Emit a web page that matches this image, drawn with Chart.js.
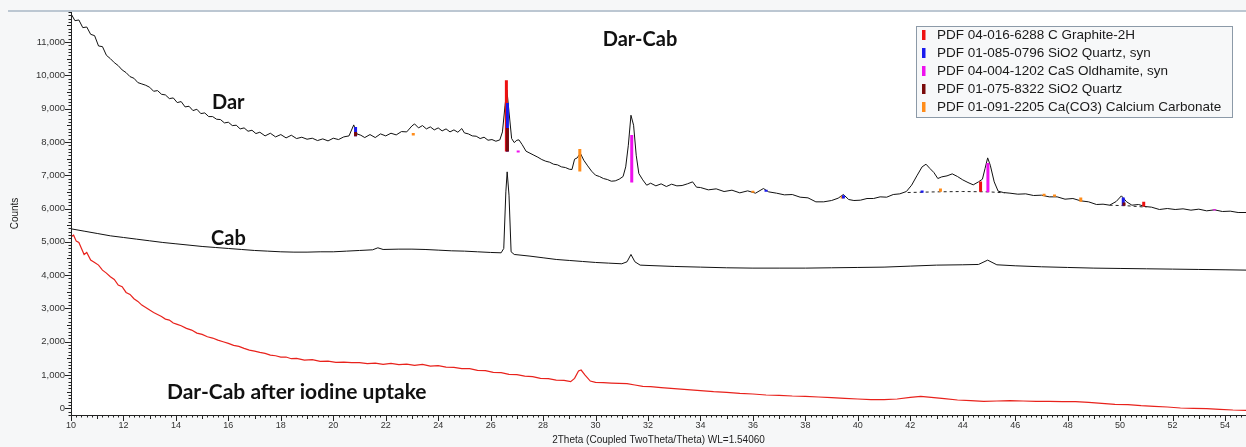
<!DOCTYPE html>
<html>
<head>
<meta charset="utf-8">
<script src="https://cdn.jsdelivr.net/npm/chart.js@4.4.0/dist/chart.umd.min.js"></script>
<style>
  body { margin: 0; background: #f6f7f8; }
  #wrap { width: 1246px; height: 447px; }
</style>
</head>
<body>
<div id="wrap"><canvas id="xrd" width="1246" height="447"></canvas></div>
<script>
// 2theta / counts, one pair of arrays per pattern
const darTheta = [
  10.0, 10.15, 10.3, 10.45, 10.6, 10.75, 10.9, 11.05, 11.2, 11.35,
  11.5, 11.65, 11.8, 11.95, 12.1, 12.25, 12.4, 12.55, 12.7, 12.85,
  13.0, 13.15, 13.3, 13.45, 13.6, 13.75, 13.9, 14.05, 14.2, 14.35,
  14.5, 14.65, 14.8, 14.95, 15.1, 15.25, 15.4, 15.55, 15.7, 15.85,
  16.0, 16.15, 16.3, 16.45, 16.6, 16.75, 16.9, 17.05, 17.2, 17.4,
  17.6, 17.8, 18.0, 18.2, 18.4, 18.6, 18.8, 19.0, 19.2, 19.4,
  19.6, 19.8, 20.0, 20.2, 20.4, 20.6, 20.78, 20.9, 21.05, 21.2,
  21.4, 21.6, 21.8, 22.0, 22.2, 22.4, 22.6, 22.8, 23.0, 23.1,
  23.25, 23.4, 23.55, 23.7, 23.85, 24.0, 24.15, 24.3, 24.45, 24.6,
  24.75, 24.9, 25.0, 25.15, 25.3, 25.45, 25.6, 25.75, 25.9, 26.05,
  26.2, 26.35, 26.45, 26.55, 26.62, 26.7, 26.8, 26.9, 27.0, 27.08,
  27.2, 27.35, 27.5, 27.65, 27.8, 27.95, 28.1, 28.25, 28.4, 28.55,
  28.7, 28.85, 29.0, 29.1, 29.2, 29.3, 29.42, 29.55, 29.7, 29.85,
  30.0, 30.15, 30.3, 30.45, 30.6, 30.75, 30.9, 31.05, 31.15, 31.25,
  31.35, 31.45, 31.55, 31.65, 31.8, 31.95, 32.1, 32.3, 32.5, 32.7,
  32.9, 33.1, 33.3, 33.5, 33.7, 33.85, 34.0, 34.3, 34.6, 34.9,
  35.2, 35.5, 35.8, 36.1, 36.4, 36.6, 36.9, 37.2, 37.5, 37.8,
  38.1, 38.4, 38.7, 39.0, 39.25, 39.45, 39.65, 39.85, 40.1, 40.35,
  40.6, 40.85, 41.1, 41.35, 41.6, 41.85, 42.05, 42.25, 42.45, 42.6,
  42.75, 42.9, 43.05, 43.2, 43.4, 43.6, 43.8, 44.0, 44.2, 44.4,
  44.6, 44.75, 44.85, 44.95, 45.05, 45.2, 45.35, 45.55, 45.8, 46.1,
  46.4, 46.7, 47.0, 47.3, 47.6, 47.9, 48.2, 48.5, 48.8, 49.1,
  49.35, 49.6, 49.85, 50.05, 50.25, 50.45, 50.7, 50.95, 51.2, 51.5,
  51.8, 52.1, 52.4, 52.7, 53.0, 53.3, 53.6, 53.9, 54.2, 54.5,
  54.8
];
const darCounts = [
  11850, 11640, 11660, 11430, 11450, 11230, 11190, 10880, 10860, 10600,
  10500, 10380, 10290, 10160, 10080, 9960, 9910, 9780, 9740, 9700,
  9640, 9520, 9540, 9430, 9410, 9300, 9320, 9180, 9210, 9050,
  9070, 8940, 8980, 8850, 8870, 8760, 8760, 8680, 8670, 8570,
  8590, 8490, 8500, 8390, 8420, 8320, 8350, 8250, 8290, 8180,
  8260, 8150, 8220, 8120, 8200, 8100, 8140, 8080, 8110, 8040,
  8090, 8030, 8110, 8070, 8150, 8180, 8510, 8240, 8200, 8130,
  8220, 8130, 8240, 8180, 8260, 8210, 8310, 8300, 8480, 8540,
  8420, 8490, 8390, 8450, 8360, 8420, 8330, 8390, 8300, 8360,
  8290, 8400, 8270, 8240, 8180, 8170, 8100, 8140, 8050, 8070,
  8020, 8060, 8300, 9100, 9560, 8900, 8100, 7980, 8050, 8060,
  7920, 7720, 7660, 7600, 7540, 7470, 7420, 7390, 7330, 7310,
  7250, 7230, 7180, 7170, 7480, 7520, 7660, 7450, 7280, 7120,
  7000, 6960, 6900, 6870, 6820, 6830, 6880, 6960, 7250, 7900,
  8800, 8500, 7600, 7050, 6860, 6700, 6760, 6680, 6740, 6660,
  6730, 6680, 6690, 6740, 6800, 6640, 6630, 6560, 6590, 6510,
  6550, 6470, 6530, 6460, 6600, 6500, 6460, 6410, 6420, 6340,
  6320, 6200, 6200, 6240, 6310, 6420, 6270, 6240, 6250, 6300,
  6300, 6350, 6340, 6420, 6440, 6510, 6700, 6980, 7250, 7330,
  7200, 7080, 6900, 6950, 6980, 7040, 6960, 6860, 6780, 6710,
  6800, 6880, 7200, 7520, 7300, 6800, 6520, 6480, 6460, 6430,
  6440, 6390, 6400, 6350, 6350, 6280, 6300, 6230, 6200, 6120,
  6130, 6100, 6210, 6380, 6200, 6100, 6120, 6060, 6040, 5970,
  6000, 5970, 5990, 5950, 5980, 5930, 5960, 5910, 5920, 5880,
  5880
];

const cabTheta = [
  10.0, 10.5, 11.0, 11.5, 12.0, 12.5, 13.0, 13.5, 14.0, 14.5,
  15.0, 15.5, 16.0, 16.5, 17.0, 17.5, 18.0, 18.5, 19.0, 19.5,
  20.0, 20.5, 21.0, 21.5, 21.7, 21.9, 22.5, 23.0, 23.5, 24.0,
  24.5, 25.0, 25.5, 26.0, 26.4, 26.5, 26.58, 26.63, 26.7, 26.78,
  26.9, 27.5, 28.0, 28.5, 29.0, 29.5, 30.0, 30.5, 31.0, 31.2,
  31.35, 31.5, 31.7, 32.0, 33.0, 34.0, 35.0, 36.0, 37.0, 38.0,
  39.0, 40.0, 41.0, 42.0, 43.0, 44.0, 44.6, 44.95, 45.3, 46.0,
  47.0, 48.0, 49.0, 50.0, 51.0, 52.0, 53.0, 54.0, 54.8
];
const cabCounts = [
  5390, 5320, 5250, 5180, 5130, 5080, 5030, 4980, 4940, 4900,
  4860, 4830, 4800, 4770, 4740, 4720, 4700, 4690, 4690, 4700,
  4700, 4720, 4740, 4760, 4820, 4770, 4780, 4780, 4770, 4750,
  4730, 4720, 4700, 4680, 4670, 4800, 6500, 7100, 6400, 4700,
  4620, 4570, 4520, 4470, 4440, 4410, 4380, 4360, 4340, 4400,
  4620, 4400, 4300, 4290, 4260, 4240, 4220, 4210, 4210, 4210,
  4220, 4230, 4240, 4270, 4300, 4310, 4320, 4450, 4310, 4280,
  4250, 4230, 4210, 4200, 4190, 4180, 4170, 4160, 4150
];

// Dar-Cab after iodine uptake
const iodTheta = [
  10.0, 10.1, 10.2, 10.3, 10.4, 10.5, 10.6, 10.75, 10.9, 11.05,
  11.2, 11.35, 11.5, 11.65, 11.8, 11.95, 12.1, 12.25, 12.4, 12.55,
  12.7, 12.85, 13.0, 13.15, 13.3, 13.45, 13.6, 13.75, 13.9, 14.05,
  14.2, 14.4, 14.6, 14.8, 15.0, 15.2, 15.4, 15.6, 15.8, 16.0,
  16.2, 16.4, 16.6, 16.8, 17.0, 17.2, 17.4, 17.6, 17.8, 18.0,
  18.2, 18.4, 18.6, 18.9, 19.2, 19.5, 19.8, 20.1, 20.4, 20.7,
  21.0, 21.3, 21.6, 21.9, 22.2, 22.5, 22.8, 23.1, 23.4, 23.7,
  24.0, 24.3, 24.6, 24.9, 25.2, 25.5, 25.8, 26.1, 26.4, 26.7,
  27.0, 27.3, 27.6, 27.9, 28.2, 28.5, 28.8, 29.05, 29.2, 29.35,
  29.45, 29.6, 29.8, 30.0, 30.3, 30.6, 30.9, 31.2, 31.5, 31.8,
  32.1, 32.5, 33.0, 33.5, 34.0, 34.5, 35.0, 35.5, 36.0, 36.5,
  37.0, 37.5, 38.0, 38.5, 39.0, 39.5, 40.0, 40.5, 41.0, 41.5,
  42.0, 42.4, 42.8, 43.3, 43.8, 44.3, 44.8, 45.3, 45.8, 46.3,
  46.8, 47.3, 47.8, 48.3, 48.8, 49.3, 49.8, 50.3, 50.8, 51.3,
  51.8, 52.3, 52.8, 53.3, 53.8, 54.3, 54.8
];
const iodCounts = [
  5150, 5200, 5020, 4980, 4800, 4620, 4680, 4450, 4380, 4300,
  4150, 4060, 3950, 3870, 3700, 3650, 3480, 3420, 3290, 3210,
  3100, 3030, 2950, 2880, 2820, 2760, 2680, 2650, 2560, 2520,
  2480, 2400, 2350, 2260, 2220, 2150, 2110, 2050, 2000, 1950,
  1890, 1860, 1800, 1750, 1720, 1680, 1650, 1600, 1580, 1540,
  1540, 1490, 1500, 1450, 1460, 1410, 1420, 1380, 1390, 1370,
  1370, 1340, 1360, 1320, 1350, 1310, 1330, 1290, 1320, 1270,
  1280, 1240, 1230, 1190, 1190, 1140, 1130, 1080, 1070, 1020,
  1010, 970, 950, 900, 890, 850, 840, 800, 900, 1120,
  1150, 1000, 820, 780, 770, 760, 750, 740, 700, 660,
  650, 620, 590, 560, 530, 500, 480, 450, 430, 400,
  390, 370, 360, 340, 320, 300, 280, 260, 260, 280,
  330, 360, 330, 290, 250, 230, 210, 220, 230, 220,
  210, 210, 200, 200, 180, 150, 120, 110, 80, 60,
  40, 10, 0, -10, -30, -50, -60
];

// fitted background under the Dar scan (null = gap)
const bgTheta = [22.9, 24.0, 25.0, 26.6, 28.1, 29.4, 31.4, 33.0, 34.0, null, 41.9, 43.0, 44.0, 45.0, 45.6, null, 49.6, 50.3, 51.0];
const bgCounts = [8200, 8080, 7940, 7710, 7410, 7110, 6780, 6600, 6510, null, 6480, 6500, 6510, 6500, 6470, null, 6100, 6080, 6040];

// reference sticks: [2theta, from, to]
const graphiteSticks = [[26.6, 7710, 9850], [44.68, 6500, 6810], [50.9, 6060, 6200]];
const quartzSynSticks = [[20.85, 8170, 8450], [26.64, 7710, 9170], [36.5, 6500, 6560], [39.45, 6300, 6400], [42.45, 6470, 6540], [50.12, 6080, 6330]];
const oldhamiteSticks = [[27.05, 7680, 7740], [31.38, 6780, 8210], [44.96, 6490, 7370], [53.6, 5940, 5980]];
const quartzSticks = [[20.85, 8170, 8300], [26.64, 7710, 8420], [50.15, 6080, 6180]];
const calciteSticks = [[23.05, 8190, 8270], [29.4, 7110, 7790], [36.0, 6470, 6530], [39.4, 6300, 6380], [43.15, 6500, 6600], [47.1, 6370, 6440], [47.5, 6350, 6420], [48.5, 6200, 6330]];

const phaseLabels = [
  "PDF 04-016-6288 C Graphite-2H",
  "PDF 01-085-0796 SiO2 Quartz, syn",
  "PDF 04-004-1202 CaS Oldhamite, syn",
  "PDF 01-075-8322 SiO2 Quartz",
  "PDF 01-091-2205 Ca(CO3) Calcium Carbonate"
];
const phaseColors = ["#ee1111", "#1a1aee", "#ee11ee", "#7a0a0a", "#ff8c1a"];

// labelled ticks
const xTicks = [10, 12, 14, 16, 18, 20, 22, 24, 26, 28, 30, 32, 34, 36, 38, 40, 42, 44, 46, 48, 50, 52, 54];
const yTicks = [0, 1000, 2000, 3000, 4000, 5000, 6000, 7000, 8000, 9000, 10000, 11000];

function toPoints(xs, ys) {
  return xs.map((x, i) => ({ x: x, y: ys[i] }));
}

function stickPoints(sticks) {
  const pts = [];
  sticks.forEach(s => {
    pts.push({ x: s[0], y: s[1] }, { x: s[0], y: s[2] }, { x: s[0], y: null });
  });
  return pts;
}

const FONT = "'Liberation Sans', Arial, sans-serif";
Chart.defaults.font.family = FONT;

// background, ticks, text labels and the phase box
const decorPlugin = {
  id: "decor",
  beforeDraw(chart) {
    const { ctx, chartArea: a } = chart;
    ctx.save();
    ctx.fillStyle = "#f6f7f8";
    ctx.fillRect(0, 0, chart.width, chart.height);
    ctx.fillStyle = "#ffffff";
    ctx.fillRect(a.left, a.top, a.right - a.left, a.bottom - a.top);
    ctx.strokeStyle = "#a9b7c6";
    ctx.lineWidth = 1.5;
    ctx.beginPath();
    ctx.moveTo(8, 11);
    ctx.lineTo(chart.width, 11);
    ctx.stroke();
    ctx.restore();
  },
  afterDraw(chart) {
    const { ctx, chartArea: a } = chart;
    const xs = chart.scales.x;
    const ys = chart.scales.y;
    ctx.save();

    // axis lines
    ctx.strokeStyle = "#222";
    ctx.lineWidth = 1;
    ctx.beginPath();
    ctx.moveTo(a.left + 0.5, a.top);
    ctx.lineTo(a.left + 0.5, a.bottom + 0.5);
    ctx.lineTo(a.right, a.bottom + 0.5);
    ctx.stroke();

    // ruler style ticks
    ctx.beginPath();
    for (let k = -2; k <= 119; k++) {
      const y = Math.round(ys.getPixelForValue(k * 100)) + 0.5;
      const len = k % 10 === 0 ? 6 : (k % 5 === 0 ? 4 : 2.5);
      ctx.moveTo(a.left - len, y);
      ctx.lineTo(a.left, y);
    }
    for (let k = 50; k <= 274; k++) {
      const x = Math.round(xs.getPixelForValue(k / 5)) + 0.5;
      const len = k % 10 === 0 ? 6 : (k % 5 === 0 ? 4 : 2.5);
      ctx.moveTo(x, a.bottom);
      ctx.lineTo(x, a.bottom + len);
    }
    ctx.stroke();

    // sample names
    ctx.fillStyle = "#111";
    ctx.textBaseline = "middle";
    ctx.font = "bold 20px Lato, 'Open Sans', sans-serif";
    ctx.textAlign = "center";
    ctx.fillText("Dar-Cab", 640, 40);
    ctx.textAlign = "left";
    ctx.fillText("Dar", 212, 103);
    ctx.fillText("Cab", 211, 239);
    ctx.font = "bold 21px Lato, 'Open Sans', sans-serif";
    ctx.fillText("Dar-Cab after iodine uptake", 167, 392);

    // phase list box
    ctx.fillStyle = "#f7f8f9";
    ctx.fillRect(916.5, 26.5, 316, 91);
    ctx.strokeStyle = "#8c9aa8";
    ctx.strokeRect(916.5, 26.5, 316, 91);
    ctx.font = "13.5px " + FONT;
    phaseLabels.forEach((label, i) => {
      const cy = 35 + i * 18;
      ctx.fillStyle = phaseColors[i];
      ctx.fillRect(922, cy - 5, 3.5, 10);
      ctx.fillStyle = "#1a1a1a";
      ctx.fillText(label, 937, cy + 0.5);
    });
    ctx.restore();
  }
};

function stickSet(sticks, color, order) {
  return {
    data: stickPoints(sticks),
    borderColor: color,
    borderWidth: 3,
    borderCapStyle: "butt",
    spanGaps: false,
    order: order
  };
}

const datasets = [
  stickSet(quartzSticks, phaseColors[3], 1),
  stickSet(quartzSynSticks, phaseColors[1], 2),
  stickSet(graphiteSticks, phaseColors[0], 3),
  stickSet(oldhamiteSticks, phaseColors[2], 4),
  stickSet(calciteSticks, phaseColors[4], 5),
  {
    data: toPoints(bgTheta, bgCounts),
    borderColor: "#222",
    borderWidth: 1,
    borderDash: [3, 3],
    spanGaps: false,
    order: 6
  },
  { data: toPoints(darTheta, darCounts), borderColor: "#111", borderWidth: 1, order: 7 },
  { data: toPoints(cabTheta, cabCounts), borderColor: "#111", borderWidth: 1, order: 8 },
  { data: toPoints(iodTheta, iodCounts), borderColor: "#e8221c", borderWidth: 1.2, order: 9 }
];

new Chart(document.getElementById("xrd"), {
  type: "line",
  data: { datasets: datasets },
  plugins: [decorPlugin],
  options: {
    responsive: false,
    animation: false,
    parsing: false,
    layout: { padding: { top: 12, right: 0, bottom: 0, left: 0 } },
    elements: { point: { radius: 0 }, line: { tension: 0 } },
    plugins: { legend: { display: false }, tooltip: { enabled: false } },
    scales: {
      x: {
        type: "linear",
        min: 10,
        max: 54.8,
        grid: { display: false, drawTicks: false },
        border: { display: false },
        ticks: { padding: 5, color: "#333", font: { size: 9 }, maxRotation: 0, autoSkip: false },
        afterBuildTicks: s => { s.ticks = xTicks.map(v => ({ value: v })); },
        afterFit: s => { s.height = 32; },
        title: {
          display: true,
          text: "2Theta (Coupled TwoTheta/Theta) WL=1.54060",
          color: "#222",
          font: { size: 10 },
          padding: { top: 0, bottom: 1 }
        }
      },
      y: {
        type: "linear",
        min: -200,
        max: 11900,
        grid: { display: false, drawTicks: false },
        border: { display: false },
        ticks: {
          padding: 6,
          color: "#333",
          font: { size: 9.5 },
          autoSkip: false,
          callback: v => v.toLocaleString("en-US")
        },
        afterBuildTicks: s => { s.ticks = yTicks.map(v => ({ value: v })); },
        afterFit: s => { s.width = 71; },
        title: {
          display: true,
          text: "Counts",
          color: "#222",
          font: { size: 10 },
          padding: { top: 9, bottom: 0 }
        }
      }
    }
  }
});
</script>
</body>
</html>
